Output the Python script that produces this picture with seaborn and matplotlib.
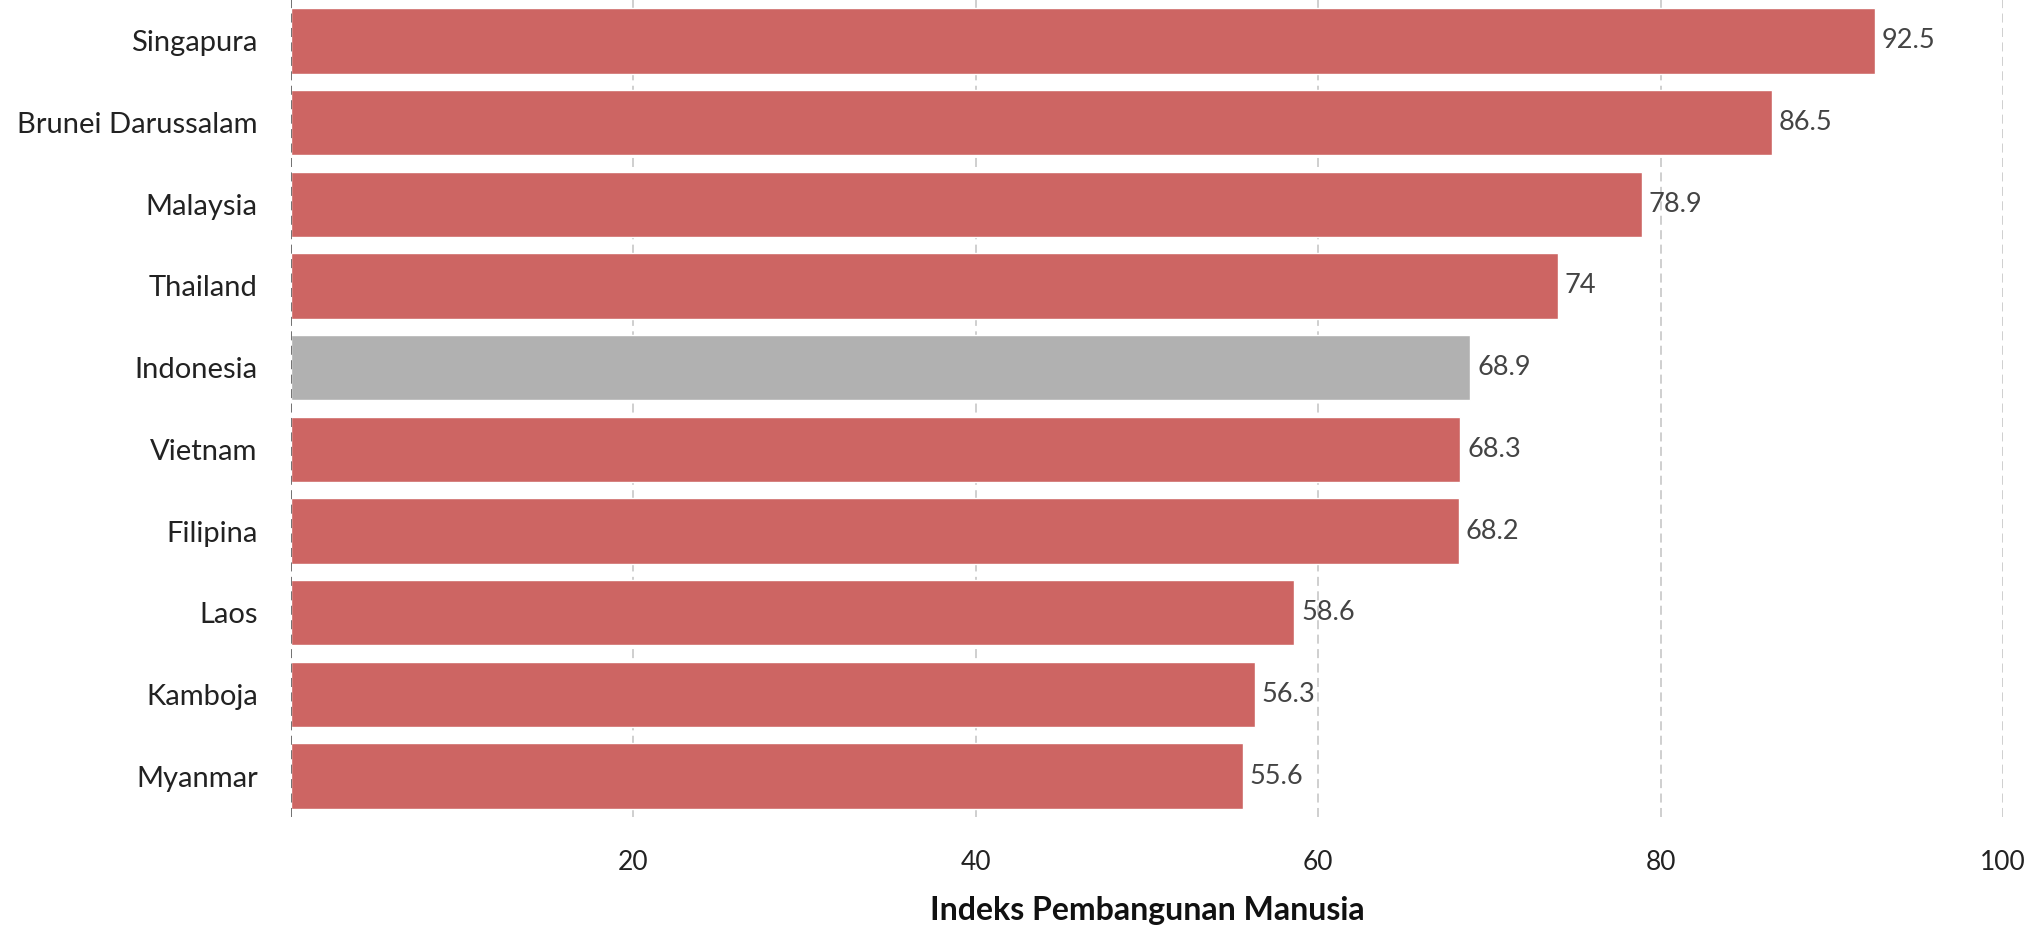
import matplotlib
matplotlib.use("Agg")
import matplotlib.pyplot as plt
import seaborn as sns
import pandas as pd

countries = ["Singapura", "Brunei Darussalam", "Malaysia", "Thailand", "Indonesia",
             "Vietnam", "Filipina", "Laos", "Kamboja", "Myanmar"]
values = [92.5, 86.5, 78.9, 74, 68.9, 68.3, 68.2, 58.6, 56.3, 55.6]
groups = ["other", "other", "other", "other", "indonesia",
          "other", "other", "other", "other", "other"]
xticks = [20, 40, 60, 80, 100]
xlabel = "Indeks Pembangunan Manusia"

df = pd.DataFrame({"country": countries, "value": values, "group": groups})

sns.set_theme(style="white")
plt.rcParams["font.family"] = ["Lato", "DejaVu Sans"]

fig = plt.figure(figsize=(20.39, 9.34), dpi=100)
ax = fig.add_axes([0.1427, 0.1253, 0.9823 - 0.1427, 0.8747])

palette = {"other": "#CD6563", "indonesia": "#B1B1B1"}
sns.barplot(data=df, y="country", x="value", hue="group", palette=palette,
            orient="h", width=0.8, dodge=False, legend=False, saturation=1,
            ax=ax, zorder=2)

for c in ax.containers:
    ax.bar_label(c, fmt="{:g}", padding=5, fontsize=19.5, color="#444444")

ax.set_xlim(0, 100)
ax.set_ylim(9.5, -0.5)
ax.set_xticks(xticks)
ax.set_xticklabels([str(t) for t in xticks])
for t in xticks:
    ax.axvline(t, color="#CCCCCC", lw=1.3, ls=(0, (5, 3)), zorder=1)
ax.axvline(0, color="#666666", lw=1.3, ls=(0, (5, 3)), zorder=3)

for s in ax.spines.values():
    s.set_visible(False)
ax.tick_params(axis="both", length=0, colors="#222222")
ax.tick_params(axis="y", pad=24, labelsize=21)
ax.tick_params(axis="x", pad=24, labelsize=19)
ax.set_ylabel("")
ax.set_xlabel(xlabel, fontsize=23, fontweight="bold", color="#111111", labelpad=15)

fig.savefig("out.png", dpi=100)
